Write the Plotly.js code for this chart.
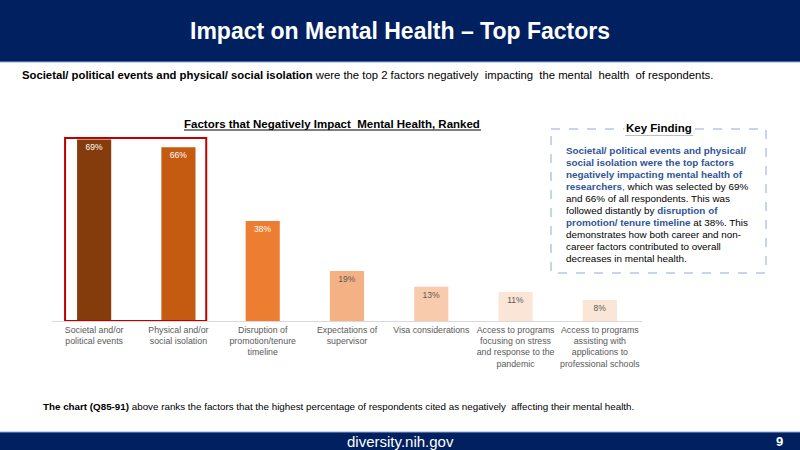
<!DOCTYPE html>
<html>
<head>
<meta charset="utf-8">
<script src="https://cdn.plot.ly/plotly-3.0.1.min.js"></script>
<style>
html,body{margin:0;padding:0;background:#fff;}
#chart{width:800px;height:450px;}
</style>
</head>
<body>
<div id="chart"></div>
<script>
// ---- data ----
const categories = [
  "Societal and/or<br>political events",
  "Physical and/or<br>social isolation",
  "Disruption of<br>promotion/tenure<br>timeline",
  "Expectations of<br>supervisor",
  "Visa considerations",
  "Access to programs<br>focusing on stress<br>and response to the<br>pandemic",
  "Access to programs<br>assisting with<br>applications to<br>professional schools"
];
const values = [69, 66, 38, 19, 13, 11, 8];
const barColors = ["#843C0C", "#C55A11", "#ED7D31", "#F4B183", "#F8CBAD", "#FBE5D6", "#FBE5D6"];
const labelColors = ["#FFFFFF", "#FFFFFF", "#FFFFFF", "#595959", "#595959", "#595959", "#595959"];

const pageTitle = "Impact on Mental Health – Top Factors";
const subtitle = "<b>Societal/ political events and physical/ social isolation</b> were the top 2 factors negatively  impacting  the mental  health  of respondents.";
const chartTitle = "<b>Factors that Negatively Impact  Mental Health, Ranked</b>";
const keyTitle = "<b>Key Finding</b>";
const B = s => '<span style="color:#2F5597"><b>' + s + '</b></span>';
const keyLines = [
  B("Societal/ political events and physical/"),
  B("social isolation were the top factors"),
  B("negatively impacting mental health of"),
  B("researchers") + '<span style="color:#2F5597">,</span> which was selected by 69%',
  "and 66% of all respondents. This was",
  "followed distantly by " + B("disruption of"),
  B("promotion/ tenure timeline") + " at 38%. This",
  "demonstrates how both career and non-",
  "career factors contributed to overall",
  "decreases in mental health."
];
const footnote = "<b>The chart (Q85-91)</b> above ranks the factors that the highest percentage of respondents cited as negatively  affecting their mental health.";
const footerText = "diversity.nih.gov";
const pageNum = "<b>9</b>";

// ---- layout helpers (pixel -> paper) ----
const L = 52, R = 642, T = 130, Bt = 321;
const px = x => (x - L) / (R - L);
const py = y => (Bt - y) / (Bt - T);

const arial = '"Liberation Sans", Arial, sans-serif';

const trace = {
  type: 'bar',
  x: categories,
  y: values,
  marker: {color: barColors, line: {width: 0}},
  texttemplate: '%{y}%',
  textposition: 'inside',
  insidetextanchor: 'end',
  textangle: 0,
  textfont: {family: arial, size: 8.5, color: labelColors},
  constraintext: 'none',
  hoverinfo: 'skip',
  cliponaxis: false
};

const shapes = [
  {type:'rect', xref:'paper', yref:'paper', x0:px(0), x1:px(800), y0:py(0), y1:py(62), fillcolor:'#002060', line:{width:0}, layer:'below'},
  {type:'line', xref:'paper', yref:'paper', x0:px(0), x1:px(800), y0:py(62), y1:py(62), line:{color:'#8FAADC', width:1}},
  {type:'rect', xref:'paper', yref:'paper', x0:px(0), x1:px(800), y0:py(432), y1:py(450), fillcolor:'#002060', line:{width:0}, layer:'below'},
  {type:'line', xref:'paper', yref:'paper', x0:px(0), x1:px(800), y0:py(432), y1:py(432), line:{color:'#8FAADC', width:1}},
  {type:'line', xref:'paper', yref:'paper', x0:px(184), x1:px(481), y0:py(130), y1:py(130), line:{color:'#000', width:1}},
  {type:'rect', xref:'x', yref:'y', x0:-0.345, x1:1.33, y0:0, y1:69.6, line:{color:'#C00000', width:2}},
  {type:'rect', xref:'paper', yref:'paper', x0:px(551), x1:px(766), y0:py(129), y1:py(273), line:{color:'#8FAADC', width:1, dash:'dash'}},
  {type:'line', xref:'paper', yref:'paper', x0:px(625), x1:px(693), y0:py(135), y1:py(135), line:{color:'#000', width:1}}
];

const annotations = [
  {text: pageTitle, xref:'paper', yref:'paper', x:px(400), y:py(31), xanchor:'center', yanchor:'middle', showarrow:false, font:{family:arial, size:23, color:'#fff', weight:'bold'}},
  {text: subtitle, xref:'paper', yref:'paper', x:px(20), y:py(75), xanchor:'left', yanchor:'middle', showarrow:false, font:{family:arial, size:11.3, color:'#000'}},
  {text: chartTitle, xref:'paper', yref:'paper', x:px(332), y:py(124), xanchor:'center', yanchor:'middle', showarrow:false, font:{family:arial, size:11.5, color:'#000'}},
  {text: keyTitle, xref:'paper', yref:'paper', x:px(659), y:py(128), xanchor:'center', yanchor:'middle', showarrow:false, bgcolor:'#fff', borderpad:1, font:{family:arial, size:11.5, color:'#000'}},
  {text: footnote, xref:'paper', yref:'paper', x:px(41), y:py(406), xanchor:'left', yanchor:'middle', showarrow:false, font:{family:arial, size:9.8, color:'#000'}},
  {text: footerText, xref:'paper', yref:'paper', x:px(400), y:py(441), xanchor:'center', yanchor:'middle', showarrow:false, font:{family:arial, size:15, color:'#fff'}},
  {text: pageNum, xref:'paper', yref:'paper', x:px(779), y:py(441), xanchor:'center', yanchor:'middle', showarrow:false, font:{family:arial, size:13, color:'#fff'}}
];
keyLines.forEach((ln, i) => {
  annotations.push({text: ln, xref:'paper', yref:'paper', x:px(564), y:py(150 + i * 12.1), xanchor:'left', yanchor:'middle', align:'left', showarrow:false, font:{family:arial, size:9.9, color:'#000'}});
});

const layout = {
  width: 800, height: 450,
  margin: {l: L, r: 800 - R, t: T, b: 450 - Bt, pad: 0},
  paper_bgcolor: '#fff', plot_bgcolor: '#fff',
  showlegend: false,
  bargap: 0.595,
  xaxis: {
    type: 'category',
    showline: true, linecolor: '#D9D9D9', linewidth: 1,
    showgrid: false, zeroline: false, ticks: '',
    tickfont: {family: arial, size: 8.8, color: '#595959'},
    tickangle: 0, automargin: false, fixedrange: true
  },
  yaxis: {
    range: [0, 72.6], visible: false, showgrid: false, zeroline: false, fixedrange: true
  },
  shapes: shapes,
  annotations: annotations
};

Plotly.newPlot('chart', [trace], layout, {staticPlot: true, displayModeBar: false});
</script>
</body>
</html>
